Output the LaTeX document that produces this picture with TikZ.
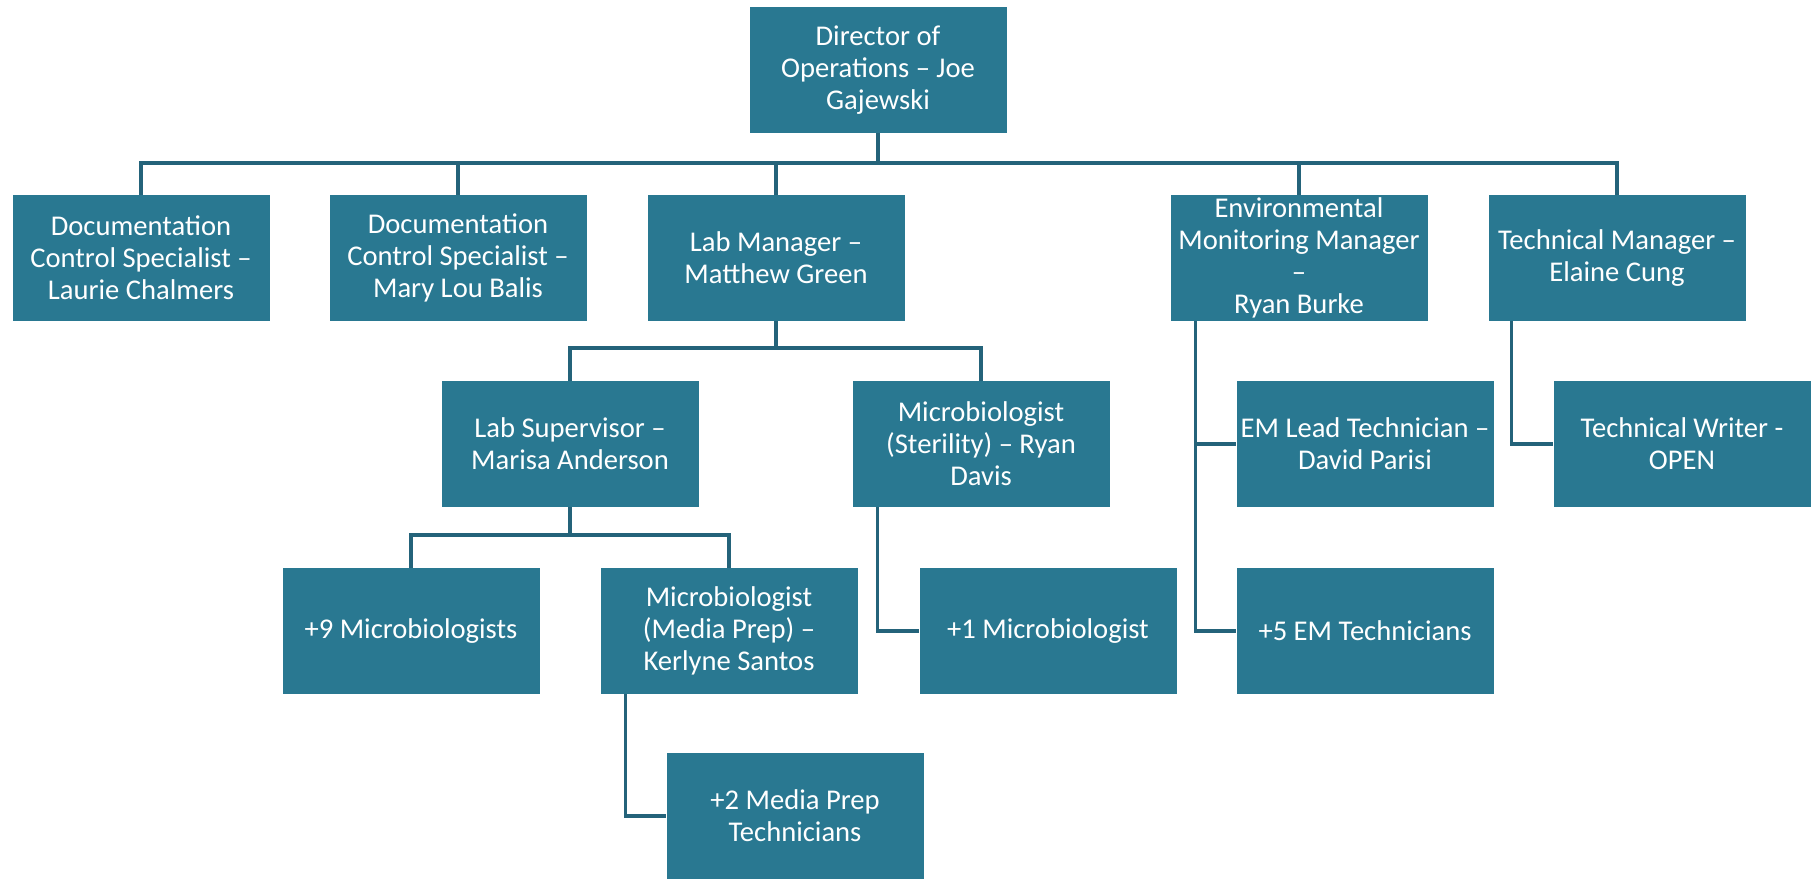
\documentclass[tikz,border=0pt]{standalone}
\usepackage{fontspec}
\setmainfont{Carlito}
\usepackage{tikz}
\definecolor{teal600}{HTML}{297891}
\definecolor{teal800}{HTML}{24637A}
\tikzstyle{cargo}=[rectangle, fill=teal600, text=white, inner sep=0pt, minimum width=128.5pt, minimum height=63pt, align=center, font=\fontsize{14.3}{16}\selectfont]
\tikzstyle{ramo}=[draw=teal800, line width=1.6pt]

\begin{document}
\begin{tikzpicture}[x=0.5pt,y=-0.5pt]
			\useasboundingbox (0,0) rectangle (1817,879);
			\node[cargo] (dir) at (878,70) {Director of\\Operations – Joe\\Gajewski};
			\node[cargo] (dc1) at (141,258) {Documentation\\Control Specialist –\\Laurie Chalmers};
			\node[cargo] (dc2) at (458,258) {Documentation\\Control Specialist –\\Mary Lou Balis};
			\node[cargo] (lm) at (776,258) {Lab Manager –\\Matthew Green};
			\node[cargo] (emm) at (1299,258) {Environmental\\Monitoring Manager\\–\\Ryan Burke};
			\node[cargo] (tm) at (1617,258) {Technical Manager –\\Elaine Cung};
			\node[cargo] (ls) at (570,444) {Lab Supervisor –\\Marisa Anderson};
			\node[cargo] (ms) at (981,444) {Microbiologist\\(Sterility) – Ryan\\Davis};
			\node[cargo] (eml) at (1365,444) {EM Lead Technician –\\David Parisi};
			\node[cargo] (tw) at (1682,444) {Technical Writer -\\OPEN};
			\node[cargo] (m9) at (411,631) {+9 Microbiologists};
			\node[cargo] (mp) at (729,631) {Microbiologist\\(Media Prep) –\\Kerlyne Santos};
			\node[cargo] (m1) at (1048,631) {+1 Microbiologist};
			\node[cargo] (em5) at (1365,631) {+5 EM Technicians};
			\node[cargo] (mp2) at (795,816) {+2 Media Prep\\Technicians};
			\coordinate (b1) at (878,163);
			\coordinate (b2) at (776,348);
			\coordinate (b3) at (570,535);
			\foreach \c in {dc1,dc2,lm,emm,tm}
				\path[ramo] (dir.south)--(b1) -| (\c.north);
			\foreach \c in {ls,ms}
				\path[ramo] (lm.south)--(b2) -| (\c.north);
			\foreach \c in {m9,mp}
				\path[ramo] (ls.south)--(b3) -| (\c.north);
			\path[ramo] (ms.south west) ++(25,0) |- (m1.west);
			\path[ramo] (mp.south west) ++(25,0) |- (mp2.west);
			\path[ramo] (emm.south west) ++(25,0) |- (eml.west) (emm.south west) ++(25,0) |- (em5.west);
			\path[ramo] (tm.south west) ++(23,0) |- (tw.west);
		\end{tikzpicture}
\end{document}
